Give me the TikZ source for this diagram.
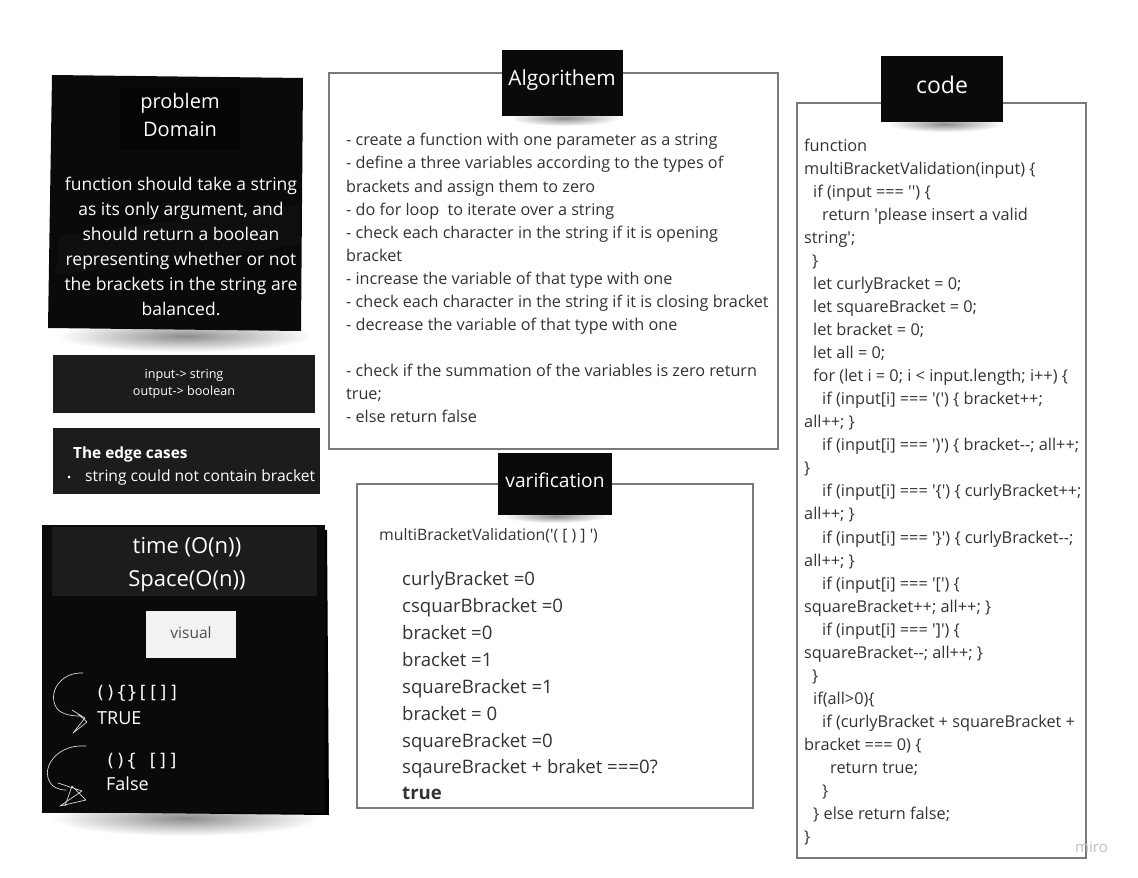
\documentclass[tikz,border=0pt]{standalone}
\usepackage{fontspec}
\setmainfont{Open Sans}
\newfontfamily\monof{DejaVu Sans Mono}
\newcommand\q{\textquotesingle}
\newcommand\dm{-\kern0pt-}
\definecolor{txt}{HTML}{333333}
\definecolor{framec}{HTML}{7A7A7A}
\definecolor{notebk}{HTML}{0A0A0A}
\definecolor{darkbox}{HTML}{1C1C1C}
\tikzset{
  frame/.style={draw=framec, line width=1.3pt},
  algtxt/.style={anchor=base west, inner sep=0pt, text=txt, font=\fontsize{16.2}{18}\selectfont},
  codetxt/.style={anchor=base west, inner sep=0pt, text=txt, font=\fontsize{16.3}{18}\selectfont},
  vertxt/.style={anchor=base west, inner sep=0pt, text=txt, font=\fontsize{18.6}{21}\selectfont},
  whitetxt/.style={anchor=base, inner sep=0pt, text=white},
  titletxt/.style={anchor=base, inner sep=0pt, text=white, font=\fontsize{20.8}{24}\selectfont},
  scrib/.style={draw=white!85!black, line width=0.7pt, line cap=round, line join=round},
  shadowblob/.style={inner color=black!45, outer color=white},
}
\newcommand\cl[4]{\node[codetxt] (#1) at (#2,#3) {#4};}
\newcommand\al[3]{\node[algtxt] (#1) at (346,#2) {#3};}
\newcommand\vl[3]{\node[vertxt] (#1) at (402,#2) {#3};}
\begin{document}
\begin{tikzpicture}[x=1pt,y=-1pt]
\useasboundingbox[fill=white] (0,0) rectangle (1138,878);

% ---------- problem domain ----------
\shade[shadowblob] (185,336) ellipse (128 and 16);
\fill[notebk] (52,75) -- (303,78) -- (301,331) -- (48,328) -- cycle;
\fill[black!85, opacity=0.2] (60,235) -- (300,205) -- (300,245) -- (55,275) -- cycle;
\fill[black!98] (120,88) rectangle (240,150);
\node[whitetxt, font=\fontsize{20}{22}\selectfont] (pd1) at (180,108) {problem};
\node[whitetxt, font=\fontsize{20}{22}\selectfont] (pd2) at (180,136) {Domain};
\begin{scope}[every node/.style={whitetxt, font=\fontsize{17.5}{20}\selectfont}]
\node (pb1) at (181,190) {function should take a string};
\node (pb2) at (181,215) {as its only argument, and};
\node (pb3) at (181,240) {should return a boolean};
\node (pb4) at (181,265) {representing whether or not};
\node (pb5) at (181,290) {the brackets in the string are};
\node (pb6) at (181,315) {balanced.};
\end{scope}

% ---------- input/output ----------
\fill[darkbox] (53,355) rectangle (315,413);
\node[whitetxt, font=\fontsize{12.6}{14}\selectfont] (io1) at (184,378) {input-> string};
\node[whitetxt, font=\fontsize{12.6}{14}\selectfont] (io2) at (184,395) {output-> boolean};

% ---------- edge cases ----------
\fill[darkbox] (53,428) rectangle (320,494);
\node[anchor=base west, inner sep=0pt, text=white, font=\bfseries\fontsize{15.4}{18}\selectfont] (ec1) at (73,458) {The edge cases};
\node[anchor=base west, inner sep=0pt, text=white, font=\fontsize{11}{14}\selectfont] (ecb) at (67,481) {•};
\node[anchor=base west, inner sep=0pt, text=white, font=\fontsize{15.6}{18}\selectfont] (ec2) at (85,481) {string could not contain bracket};

% ---------- time / space ----------
\shade[shadowblob] (185,818) ellipse (135 and 18);
\fill[black] (47,528) -- (327,530) -- (329,815) -- (45,812) -- cycle;
\fill[notebk] (42,525) rectangle (325,813);
\fill[darkbox] (52,527) rectangle (317,596);
\node[whitetxt, font=\fontsize{22}{24}\selectfont] (ts1) at (187,553) {time (O(n))};
\node[whitetxt, font=\fontsize{22}{24}\selectfont] (ts2) at (187,586) {Space(O(n))};
\fill[white!95!black] (146,611) rectangle (236,658);
\node[anchor=base, inner sep=0pt, text=black!70, font=\fontsize{15.5}{18}\selectfont] (vis) at (191,638) {visual};
\node[anchor=base west, inner sep=0pt, text=white, font=\monof\fontsize{17.5}{20}\selectfont] (ex1) at (95,698) {()\{\}[[]]};
\node[anchor=base west, inner sep=0pt, text=white, font=\fontsize{18}{20}\selectfont] (ex1r) at (97,724) {TRUE};
\node[anchor=base west, inner sep=0pt, text=white, font=\monof\fontsize{17.5}{20}\selectfont] (ex2) at (105,766) {()\{ []]};
\node[anchor=base west, inner sep=0pt, text=white, font=\fontsize{18}{20}\selectfont] (ex2r) at (106,790) {False};
\draw[scrib] (83,673) .. controls (62,672) and (49,690) .. (55,705) .. controls (58,713) and (68,716) .. (80,716);
\draw[scrib] (72,710) -- (85,718) -- (73,733) -- (87,722) -- (77,713);
\draw[scrib] (86,746) .. controls (58,744) and (44,765) .. (48,778) .. controls (51,787) and (58,790) .. (66,790);
\draw[scrib] (58,783) -- (82,791) -- (60,806) -- (86,800) -- (72,786) -- (65,806);

% ---------- Algorithem ----------
\draw[frame] (329,73) rectangle (778,449);
\shade[shadowblob] (565,118) ellipse (55 and 8);
\fill[notebk] (502,50) rectangle (623,116);
\node[titletxt] (algt) at (562,85) {Algorithem};
\al{a1}{145}{- create a function with one parameter as a string}
\al{a2}{168}{- define a three variables according to the types of}
\al{a3}{192}{brackets and assign them to zero}
\al{a4}{215}{- do for loop\ \ to iterate over a string}
\al{a5}{238}{- check each character in the string if it is opening}
\al{a6}{261}{bracket}
\al{a7}{284}{- increase the variable of that type with one}
\al{a8}{307}{- check each character in the string if it is closing bracket}
\al{a9}{330}{- decrease the variable of that type with one}
\al{a10}{376}{- check if the summation of the variables is zero return}
\al{a11}{399}{true;}
\al{a12}{422}{- else return false}

% ---------- varification ----------
\draw[frame] (357,484) rectangle (753,808);
\shade[shadowblob] (555,516) ellipse (52 and 7);
\fill[notebk] (498,453) rectangle (612,515);
\node[whitetxt, font=\fontsize{19.2}{23}\selectfont] (vert) at (555,487) {varification};
\node[anchor=base west, inner sep=0pt, text=txt, font=\fontsize{15.8}{17}\selectfont] (vcall) at (379,540) {multiBracketValidation(\q( [ ) ] \q)};
\vl{v1}{585}{curlyBracket =0}
\vl{v2}{612}{csquarBbracket =0}
\vl{v3}{639}{bracket =0}
\vl{v4}{666}{bracket =1}
\vl{v5}{693}{squareBracket =1}
\vl{v6}{720}{bracket = 0}
\vl{v7}{747}{squareBracket =0}
\vl{v8}{773}{sqaureBracket + braket ===0?}
\vl{v9}{799}{\textbf{true}}

% ---------- code ----------
\draw[frame] (797,103) rectangle (1086,858);
\shade[shadowblob] (945,124) ellipse (58 and 8);
\fill[notebk] (881,56) rectangle (1003,122);
\node[whitetxt, font=\fontsize{23}{26}\selectfont] (codet) at (942,93) {code};
\cl{c1}{804}{151}{function}
\cl{c2}{804}{174}{multiBracketValidation(input) \{}
\cl{c3}{813}{197}{if (input === \q\q) \{}
\cl{c4}{822}{220}{return \q please insert a valid}
\cl{c5}{804}{243}{string\q;}
\cl{c6}{812}{266}{\}}
\cl{c7}{813}{289}{let curlyBracket = 0;}
\cl{c8}{813}{312}{let squareBracket = 0;}
\cl{c9}{813}{335}{let bracket = 0;}
\cl{c10}{813}{358}{let all = 0;}
\cl{c11}{813}{381}{for (let i = 0; i < input.length; i++) \{}
\cl{c12}{822}{404}{if (input[i] === \q(\q) \{ bracket++;}
\cl{c13}{804}{427}{all++; \}}
\cl{c14}{822}{450}{if (input[i] === \q)\q) \{ bracket\dm; all++;}
\cl{c15}{804}{473}{\}}
\cl{c16}{822}{496}{if (input[i] === \q\{\q) \{ curlyBracket++;}
\cl{c17}{804}{519}{all++; \}}
\cl{c18}{822}{543}{if (input[i] === \q\}\q) \{ curlyBracket\dm;}
\cl{c19}{804}{566}{all++; \}}
\cl{c20}{822}{589}{if (input[i] === \q[\q) \{}
\cl{c21}{804}{612}{squareBracket++; all++; \}}
\cl{c22}{822}{635}{if (input[i] === \q]\q) \{}
\cl{c23}{804}{658}{squareBracket\dm; all++; \}}
\cl{c24}{812}{681}{\}}
\cl{c25}{813}{704}{if(all>0)\{}
\cl{c26}{822}{727}{if (curlyBracket + squareBracket +}
\cl{c27}{804}{750}{bracket === 0) \{}
\cl{c28}{830}{773}{return true;}
\cl{c29}{822}{796}{\}}
\cl{c30}{813}{819}{\} else return false;}
\cl{c31}{804}{842}{\}}
\node[anchor=base west, inner sep=0pt, text=black!25, font=\fontsize{15}{18}\selectfont] (miro) at (1075,852) {miro};
\end{tikzpicture}
\end{document}
